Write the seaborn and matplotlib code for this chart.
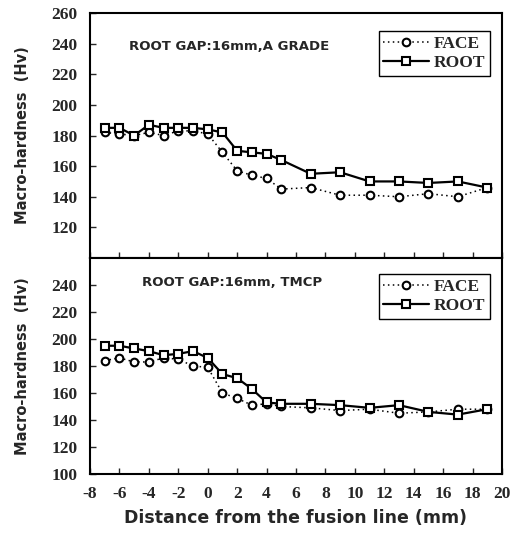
import matplotlib
matplotlib.use("Agg")
import matplotlib.pyplot as plt
import seaborn as sns
import numpy as np

# ---- data ----
x_pos = [-7, -6, -5, -4, -3, -2, -1, 0, 1, 2, 3, 4, 5, 7, 9, 11, 13, 15, 17, 19]

top_face = [182, 181, 180, 182, 180, 183, 183, 181, 169, 157, 154, 152, 145, 146, 141, 141, 140, 142, 140, 146]
top_root = [185, 185, 180, 187, 185, 185, 185, 184, 182, 170, 169, 168, 164, 155, 156, 150, 150, 149, 150, 146]

bot_face = [184, 186, 183, 183, 186, 185, 180, 179, 160, 156, 151, 152, 150, 149, 147, 148, 145, 146, 148, 148]
bot_root = [195, 195, 193, 191, 188, 189, 191, 186, 174, 171, 163, 153, 152, 152, 151, 149, 151, 146, 144, 148]

x_ticks = [-8, -6, -4, -2, 0, 2, 4, 6, 8, 10, 12, 14, 16, 18, 20]
top_yticks = [120, 140, 160, 180, 200, 220, 240, 260]
bot_yticks = [100, 120, 140, 160, 180, 200, 220, 240]

top_title = "ROOT GAP:16mm,A GRADE"
bot_title = "ROOT GAP:16mm, TMCP"
ylabel = "Macro-hardness  (Hv)"
xlabel = "Distance from the fusion line (mm)"

# ---- figure ----
sns.set_style("white")
plt.rcParams['font.family'] = ['DejaVu Sans']

fig = plt.figure(figsize=(5.20, 5.38), dpi=100)
L, R = 90 / 520, 502 / 520
ax_top = fig.add_axes([L, 1 - 258 / 538, R - L, (258 - 13) / 538])
ax_bot = fig.add_axes([L, 1 - 474 / 538, R - L, (474 - 258) / 538])

tick_font = dict(family='Liberation Serif', weight='bold', size=12.5)


def draw(ax, face, root, title, yticks, tx, ty):
    sns.lineplot(x=x_pos, y=face, ax=ax, color='black', linestyle=(0, (1, 2.2)),
                 linewidth=1.1, marker='o', markersize=5.5, markerfacecolor='white',
                 markeredgecolor='black', markeredgewidth=1.5, label='FACE')
    sns.lineplot(x=x_pos, y=root, ax=ax, color='black', linestyle='-',
                 linewidth=1.6, marker='s', markersize=6, markerfacecolor='white',
                 markeredgecolor='black', markeredgewidth=1.5, label='ROOT')
    ax.set_xlim(-8, 20)
    ax.set_ylim(100, 260)
    ax.set_xticks(x_ticks)
    ax.set_yticks(yticks)
    ax.set_yticklabels([str(v) for v in yticks], fontdict=tick_font)
    ax.tick_params(axis='both', direction='in', length=4, width=1,
                   left=True, bottom=True, top=False, right=False, pad=9)
    for s in ax.spines.values():
        s.set_linewidth(1.5)
        s.set_color('black')
    ax.text(tx, ty, title, transform=ax.transAxes, fontsize=9.5, fontweight='bold',
            family='DejaVu Sans', va='center', ha='left')
    ax.set_ylabel(ylabel, fontsize=10.5, fontweight='bold', labelpad=10)
    leg = ax.legend(loc='upper right', bbox_to_anchor=(0.97, 0.925), frameon=True,
                    fancybox=False, edgecolor='black', framealpha=1,
                    prop=dict(family='Liberation Serif', weight='bold', size=12.5),
                    handlelength=2.6, handletextpad=0.3, borderpad=0.25,
                    labelspacing=0.2, borderaxespad=0)
    leg.get_frame().set_linewidth(1.0)
    ax.grid(False)


draw(ax_top, top_face, top_root, top_title, top_yticks, 0.095, 0.865)
draw(ax_bot, bot_face, bot_root, bot_title, bot_yticks, 0.125, 0.885)

ax_top.set_xticklabels([])
ax_top.set_xlabel('')
ax_bot.set_xticklabels([str(v) for v in x_ticks], fontdict=tick_font)
ax_bot.set_xlabel(xlabel, fontsize=12.5, fontweight='bold', labelpad=5)

# place y labels
ax_top.yaxis.set_label_coords(-0.145, 0.5)
ax_bot.yaxis.set_label_coords(-0.145, 0.5)

fig.savefig("out.png", dpi=100)
